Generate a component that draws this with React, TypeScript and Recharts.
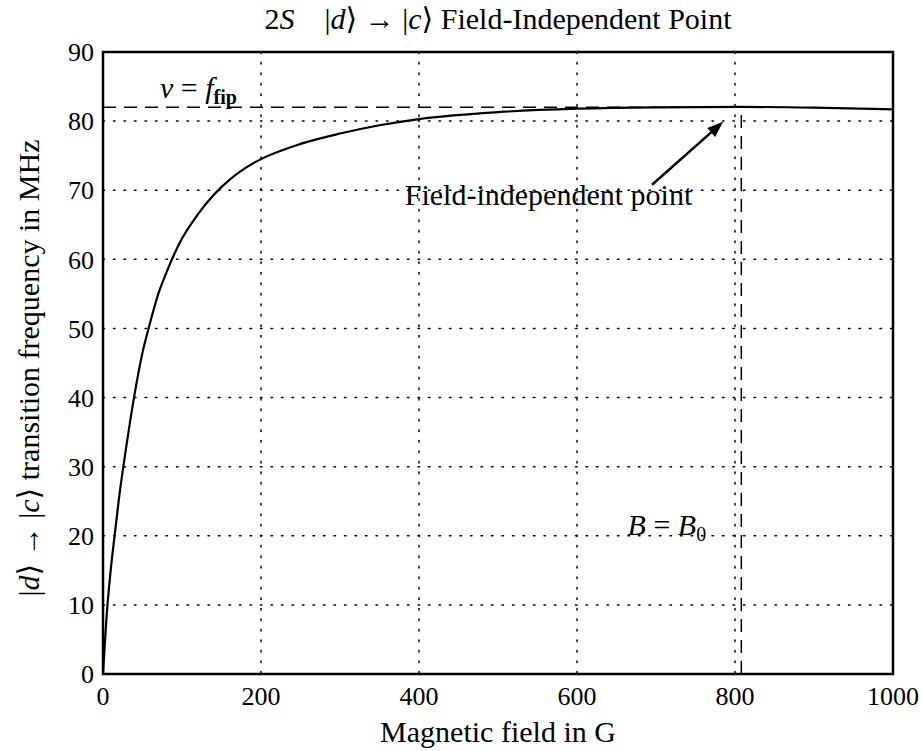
import { ComposedChart, Line, XAxis, YAxis, CartesianGrid, ReferenceLine, ReferenceArea, ReferenceDot } from 'recharts';

const fieldG = [0, 5, 10, 15, 20, 30, 40, 50, 60, 70, 80, 90, 100, 120, 140, 160, 180, 200, 250, 300, 350, 400, 500, 600, 700, 808, 900, 1000];
const freqMHz = [0, 9, 15.3, 20.3, 25.2, 33.3, 40.5, 46.5, 51, 55, 58, 60.7, 63, 66.5, 69.3, 71.5, 73.2, 74.5, 76.7, 78.2, 79.4, 80.3, 81.3, 81.8, 82.0, 82.05, 81.95, 81.7];

const xTicks = [0, 200, 400, 600, 800, 1000];
const yTicks = [0, 10, 20, 30, 40, 50, 60, 70, 80, 90];

const B0 = 808;
const fFip = 82.0;
const arrowFrom = { x: 695, y: 70.8 };
const arrowTo = { x: 785, y: 79.9 };

const data = fieldG.map((b, i) => ({ b, f: freqMHz[i] }));

const FONT = '"Liberation Serif", "DejaVu Serif", serif';

function Arrow(props: any) {
  const { x1, y1, x2, y2 } = props;
  const ang = Math.atan2(y2 - y1, x2 - x1);
  const len = 16;
  const half = 6;
  const bx = x2 - len * Math.cos(ang);
  const by = y2 - len * Math.sin(ang);
  const px = -Math.sin(ang) * half;
  const py = Math.cos(ang) * half;
  return (
    <g>
      <line x1={x1} y1={y1} x2={bx} y2={by} stroke="#000" strokeWidth={2.5} />
      <polygon points={`${x2},${y2} ${bx + px},${by + py} ${bx - px},${by - py}`} fill="#000" />
    </g>
  );
}

export default function App() {
  return (
    <div style={{ position: 'absolute', left: 0, top: 0, width: 922, height: 751, background: '#fff', fontFamily: FONT }}>
      <div style={{ position: 'absolute', left: 0, top: 1, width: 996, textAlign: 'center', fontSize: 30, color: '#000', whiteSpace: 'nowrap' }}>
        2<i>S</i>&nbsp;&nbsp;&nbsp;&nbsp;|<i>d</i>⟩ → |<i>c</i>⟩ Field-Independent Point
      </div>
      <ComposedChart width={922} height={751} data={data} margin={{ top: 52, right: 29, bottom: 47, left: 43 }}>
        <CartesianGrid stroke="#000" strokeWidth={1.5} strokeDasharray="1.5 9" strokeLinecap="round" />
        <XAxis
          dataKey="b"
          type="number"
          domain={[0, 1000]}
          ticks={xTicks}
          axisLine={false}
          tickLine={false}
          tickSize={0}
          tickMargin={13}
          height={30}
          tick={{ fill: '#000', fontSize: 26, fontFamily: FONT }}
          label={{ value: 'Magnetic field in G', position: 'insideBottom', offset: -38, fill: '#000', fontSize: 30, fontFamily: FONT }}
        />
        <YAxis
          type="number"
          domain={[0, 90]}
          ticks={yTicks}
          axisLine={false}
          tickLine={false}
          tickSize={0}
          tickMargin={9}
          width={60}
          tick={{ fill: '#000', fontSize: 26, fontFamily: FONT }}
        />
        <ReferenceArea x1={0} x2={1000} y1={0} y2={90} fill="none" stroke="#000" strokeWidth={2.5} />
        <ReferenceLine segment={[{ x: 0, y: fFip }, { x: B0, y: fFip }]} stroke="#000" strokeWidth={1.5} strokeDasharray="13 8" />
        <ReferenceLine segment={[{ x: B0, y: 0 }, { x: B0, y: fFip }]} stroke="#000" strokeWidth={1.5} strokeDasharray="13 8" />
        <Line dataKey="f" type="monotone" stroke="#000" strokeWidth={2.2} dot={false} isAnimationActive={false} />
        <ReferenceLine segment={[arrowFrom, arrowTo]} shape={Arrow} />
        <ReferenceDot
          x={72}
          y={83.3}
          r={0}
          shape={(p: any) => (
            <text x={p.cx} y={p.cy} fontFamily={FONT} fontSize={30} fill="#000">
              <tspan fontStyle="italic">ν</tspan> = <tspan fontStyle="italic">f</tspan>
              <tspan fontSize={20} dy={6} fontWeight="bold">fip</tspan>
            </text>
          )}
        />
        <ReferenceDot
          x={382}
          y={67.8}
          r={0}
          shape={(p: any) => (
            <text x={p.cx} y={p.cy} fontFamily={FONT} fontSize={30} fill="#000">
              Field-independent point
            </text>
          )}
        />
        <ReferenceDot
          x={664}
          y={20.1}
          r={0}
          shape={(p: any) => (
            <text x={p.cx} y={p.cy} fontFamily={FONT} fontSize={30} fill="#000">
              <tspan fontStyle="italic">B</tspan> = <tspan fontStyle="italic">B</tspan>
              <tspan fontSize={20} dy={6}>0</tspan>
            </text>
          )}
        />
      </ComposedChart>
      <div
        style={{
          position: 'absolute',
          left: 28,
          top: 368,
          transform: 'translate(-50%, -50%) rotate(-90deg)',
          fontSize: 30,
          whiteSpace: 'nowrap',
          color: '#000',
        }}
      >
        |<i>d</i>⟩ → |<i>c</i>⟩ transition frequency in MHz
      </div>
    </div>
  );
}
